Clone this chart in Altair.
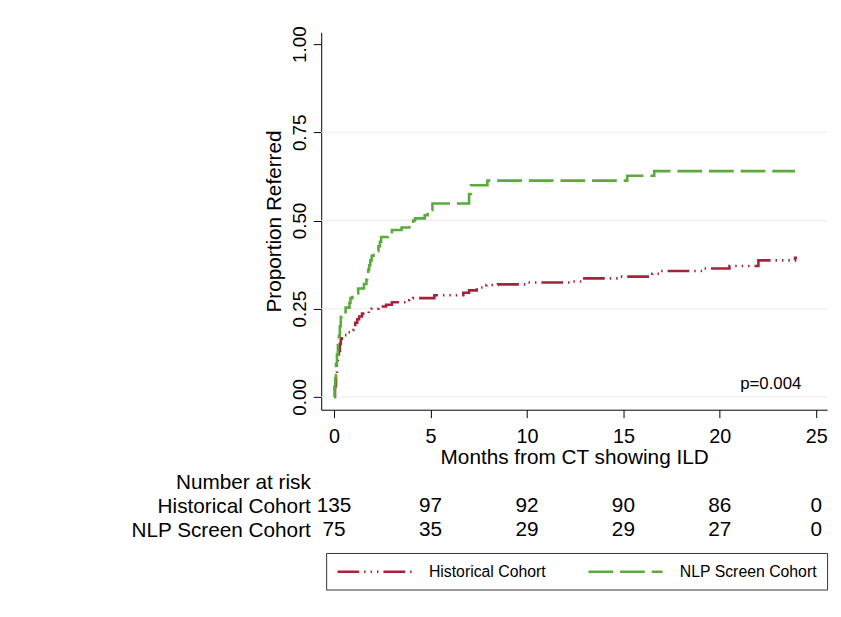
import altair as alt
import pandas as pd

FONT = "Liberation Sans"

cohorts = ["Historical Cohort", "NLP Screen Cohort"]
line_colors = ["#A6243A", "#5AAA3C"]

# Kaplan-Meier style cumulative proportion referred
hist_t = [0, 0.05, 0.1, 0.15, 0.2, 0.25, 0.3, 0.35, 0.4, 0.7, 0.85, 1.0, 1.1, 1.2, 1.3, 1.45,
          1.8, 1.95, 2.3, 2.7, 3.0, 3.9, 4.1, 5.2, 6.7, 7.0, 7.4, 7.9, 8.5, 10.0, 12.4,
          12.9, 14.8, 16.5, 16.9, 19.2, 20.5, 22.0, 23.9, 24.0]
hist_s = [0, 0.03, 0.06, 0.09, 0.11, 0.13, 0.15, 0.165, 0.175, 0.183, 0.19, 0.2, 0.21, 0.22, 0.228, 0.236,
          0.243, 0.25, 0.256, 0.261, 0.268, 0.274, 0.28, 0.288, 0.295, 0.302, 0.31, 0.317, 0.319, 0.324, 0.327,
          0.336, 0.341, 0.349, 0.357, 0.364, 0.371, 0.387, 0.394, 0.394]

nlp_t = [0, 0.03, 0.06, 0.1, 0.15, 0.2, 0.25, 0.3, 0.35, 0.4, 0.6, 0.8, 0.85, 0.95, 1.25, 1.55,
         1.68, 1.72, 1.77, 1.82, 1.88, 1.95, 2.05, 2.3, 2.38, 2.44, 2.8, 3.0, 3.5, 3.9, 4.1,
         4.2, 4.7, 4.85, 5.1, 7.0, 7.1, 7.95, 15.2, 16.6, 23.9]
nlp_s = [0, 0.027, 0.053, 0.093, 0.12, 0.147, 0.173, 0.2, 0.227, 0.24, 0.253, 0.267, 0.28, 0.293, 0.307, 0.32,
         0.333, 0.347, 0.36, 0.373, 0.387, 0.40, 0.413, 0.427, 0.44, 0.453, 0.467, 0.473, 0.48, 0.49, 0.50,
         0.506, 0.515, 0.53, 0.548, 0.575, 0.60, 0.613, 0.627, 0.64, 0.64]

# Number at risk table
risk_times = [0, 5, 10, 15, 20, 25]
risk_hist = [135, 97, 92, 90, 86, 0]
risk_nlp = [75, 35, 29, 29, 27, 0]
risk_rows = ["Number at risk", "Historical Cohort", "NLP Screen Cohort"]

x_ticks = [0, 5, 10, 15, 20, 25]
y_ticks = [0, 0.25, 0.5, 0.75, 1.0]
grid_vals = [0, 0.25, 0.5, 0.75]

p_text = ["p=0.004"]
p_t = [22.64]
p_s = [0.036]

# ---- data frames ----
curve_df = pd.concat([
    pd.DataFrame({"cohort": cohorts[0], "t": hist_t, "s": hist_s}),
    pd.DataFrame({"cohort": cohorts[1], "t": nlp_t, "s": nlp_s}),
], ignore_index=True)
grid_df = pd.DataFrame({"g": grid_vals})
p_df = pd.DataFrame({"label": p_text, "t": p_t, "s": p_s})
risk_df = pd.concat([
    pd.DataFrame({"row": risk_rows[1], "t": risk_times, "n": risk_hist}),
    pd.DataFrame({"row": risk_rows[2], "t": risk_times, "n": risk_nlp}),
], ignore_index=True)

W, H = 512, 382
xscale = alt.Scale(domain=[-0.666, 25.56], nice=False, zero=False)
yscale = alt.Scale(domain=[-0.0364, 1.0336], nice=False, zero=False)

xaxis = alt.Axis(values=x_ticks, format="d", title="Months from CT showing ILD", grid=False,
                 tickSize=8, tickColor="black", domainColor="black", labelColor="black",
                 titleColor="black", labelFontSize=20, titleFontSize=21, titleFontWeight="normal",
                 labelPadding=9, titlePadding=0, labelFlush=False, labelFont=FONT, titleFont=FONT)
yaxis = alt.Axis(values=y_ticks, format=".2f", title="Proportion Referred", grid=False,
                 tickSize=8, tickColor="black", domainColor="black", labelColor="black",
                 titleColor="black", labelFontSize=19, titleFontSize=21, titleFontWeight="normal",
                 labelAngle=270, labelAlign="center", labelBaseline="alphabetic",
                 labelPadding=8, titlePadding=6, labelOverlap=False, labelFlush=False,
                 labelFont=FONT, titleFont=FONT)

# long horizontal legend stroke: drawn from the symbol's left edge to 10x its half-size
legend = alt.Legend(title=None, orient="none", legendX=5, legendY=527, direction="horizontal",
                    columns=2, symbolType="M-1,0L9,0", symbolSize=225, symbolStrokeWidth=2.5,
                    labelFontSize=16, labelOffset=76, columnPadding=37, padding=10,
                    strokeColor="#333333", fillColor="white", labelColor="black", labelFont=FONT,
                    symbolFillColor="transparent")

grid = alt.Chart(grid_df).mark_rule(color="#E6EDF1", strokeWidth=1).encode(
    y=alt.Y("g:Q", scale=yscale, axis=yaxis)
)

curves = alt.Chart(curve_df).mark_line(interpolate="step-after", strokeWidth=2.6, strokeCap="butt").encode(
    x=alt.X("t:Q", scale=xscale, axis=xaxis),
    y=alt.Y("s:Q", scale=yscale, axis=yaxis),
    color=alt.Color("cohort:N", scale=alt.Scale(domain=cohorts, range=line_colors), legend=legend),
    strokeDash=alt.StrokeDash("cohort:N", scale=alt.Scale(
        domain=cohorts, range=[[22, 5, 1.5, 5, 1.5, 5, 1.5, 5], [25, 7]]), legend=legend),
    detail="cohort:N",
)

ptext = alt.Chart(p_df).mark_text(fontSize=17, font=FONT, color="black", align="center",
                                  baseline="middle").encode(
    x=alt.X("t:Q", scale=xscale, axis=xaxis),
    y=alt.Y("s:Q", scale=yscale, axis=yaxis),
    text="label:N",
)

main = alt.layer(grid, curves, ptext).properties(width=W, height=H)

table = alt.Chart(risk_df).mark_text(fontSize=21, font=FONT, color="black", align="center",
                                     baseline="middle").encode(
    x=alt.X("t:Q", scale=xscale, axis=None),
    y=alt.Y("row:N", scale=alt.Scale(domain=risk_rows, padding=0.5),
            axis=alt.Axis(title=None, domain=False, ticks=False, labelFontSize=21, labelPadding=11,
                          labelColor="black", labelAlign="right", labelBaseline="middle",
                          labelFont=FONT, labelOverlap=False, labelLimit=0)),
    text="n:N",
).properties(width=W, height=72)

chart = alt.vconcat(main, table, spacing=62, bounds="flush").resolve_scale(
    x="independent", y="independent", color="independent", strokeDash="independent"
).resolve_legend(color="independent", strokeDash="independent").properties(
    padding={"left": 123, "top": 14, "right": 5, "bottom": 5}
).configure(font=FONT).configure_view(stroke=None)

chart.save("out.html", embed_options={"renderer": "svg", "actions": False})
